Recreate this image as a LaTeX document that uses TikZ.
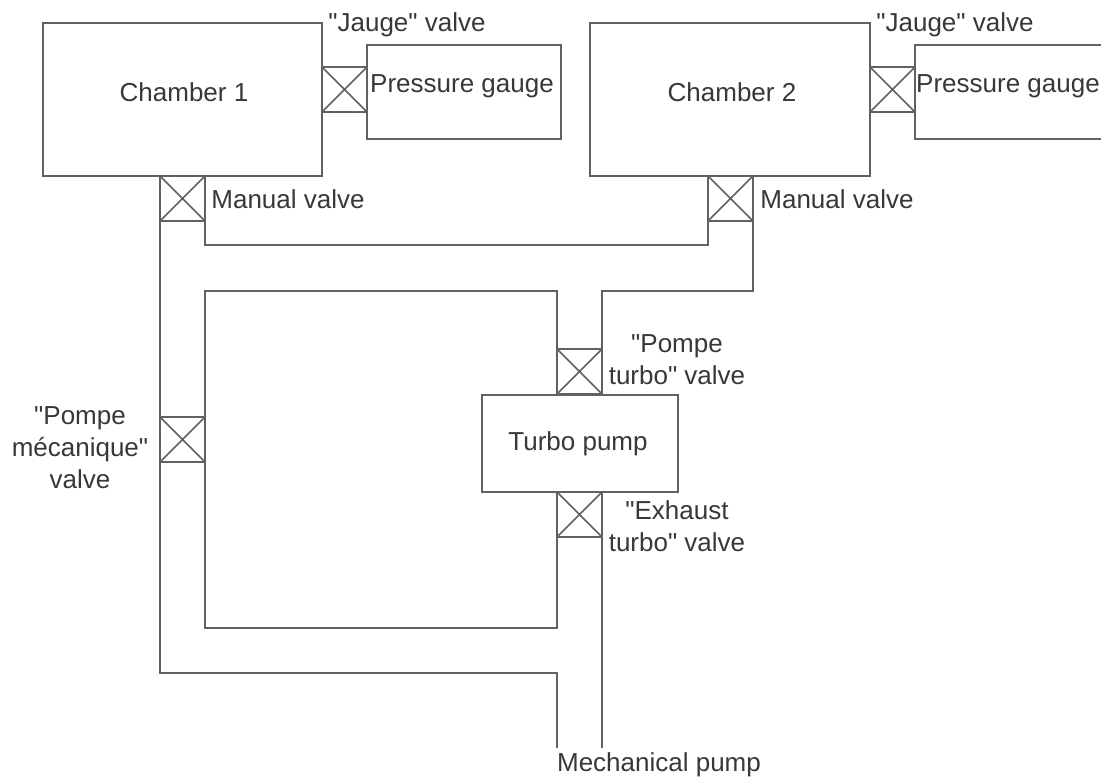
\documentclass[tikz,border=0pt]{standalone}
\usepackage{fontspec}
\newfontfamily\lblfont{Liberation Sans}
\definecolor{ink}{gray}{0.38}
\definecolor{txt}{gray}{0.22}
\tikzset{
  line/.style={draw=ink,line width=2pt},
  box/.style={line,rectangle,inner sep=0pt,outer sep=0pt,anchor=north west,minimum width=#1},
  valve/.style={line,rectangle,inner sep=0pt,outer sep=0pt,anchor=north west,minimum width=45pt,minimum height=45pt,
    path picture={\draw[ink,line width=1.6pt] (path picture bounding box.north west)--(path picture bounding box.south east)
      (path picture bounding box.north east)--(path picture bounding box.south west);}},
  lbl/.style={text=txt,font=\lblfont\fontsize{26}{32}\selectfont,inner sep=0pt,align=center}
}
\begin{document}
\begin{tikzpicture}[x=1pt,y=-1pt]
\clip (0,0) rectangle (1101,783);
\fill[white] (0,0) rectangle (1101,783);
\node[box=279pt,minimum height=153pt] (c1) at (43,23) {};
\node[box=194pt,minimum height=94pt] (g1) at (367,45) {};
\node[box=280pt,minimum height=153pt] (c2) at (590,23) {};
\node[box=210pt,minimum height=94pt] (g2) at (915,45) {};
\node[box=196pt,minimum height=97pt] (tp) at (482,395) {};
\node[valve] (vj1) at (322,67) {};
\node[valve] (vj2) at (870,67) {};
\node[valve] (vm1) at (160,176) {};
\node[valve] (vm2) at (708,176) {};
\node[valve] (vpm) at (160,417) {};
\node[valve] (vpt) at (557,349) {};
\node[valve] (vet) at (557,492) {};
\coordinate (pa) at (557,748);
\coordinate (pb) at (602,748);
\coordinate (la) at (205,245);
\coordinate (lb) at (205,291);
\coordinate (lc) at (205,628);
\coordinate (ld) at (160,673);
\draw[line] (vm1.south west) -- (vpm.north west);
\draw[line] (vpm.south west) -- (ld) -- (pa |- ld) -- (pa);
\draw[line] (vm1.south east) -- (la) -- (vm2.south west |- la) -- (vm2.south west);
\draw[line] (vm2.south east) -- (vm2.south east |- lb) -- (vpt.north east |- lb) -- (vpt.north east);
\draw[line] (vpt.north west) -- (vpt.north west |- lb) -- (lb) -- (vpm.north east);
\draw[line] (vpm.south east) -- (lc) -- (vet.south west |- lc) -- (vet.south west);
\draw[line] (vet.south east) -- (pb);
\node[lbl] (t1) at (184,92) {Chamber 1};
\node[lbl] (t2) at (732,92) {Chamber 2};
\node[lbl] (t3) at (462,86) {Pressure gauge};
\node[lbl] (t4) at (1008,86) {Pressure gauge};
\node[lbl] (t5) at (407,25) {"Jauge" valve};
\node[lbl] (t6) at (955,25) {"Jauge" valve};
\node[lbl] (t7) at (288,199) {Manual valve};
\node[lbl] (t8) at (837,199) {Manual valve};
\node[lbl] (t9) at (677,360) {"Pompe\\turbo" valve};
\node[lbl] (t10) at (578,444) {Turbo pump};
\node[lbl] (t11) at (677,526) {"Exhaust\\turbo" valve};
\node[lbl] (t12) at (80,448) {"Pompe\\mécanique"\\valve};
\node[lbl] (t13) at (659,765) {Mechanical pump};
\end{tikzpicture}
\end{document}
